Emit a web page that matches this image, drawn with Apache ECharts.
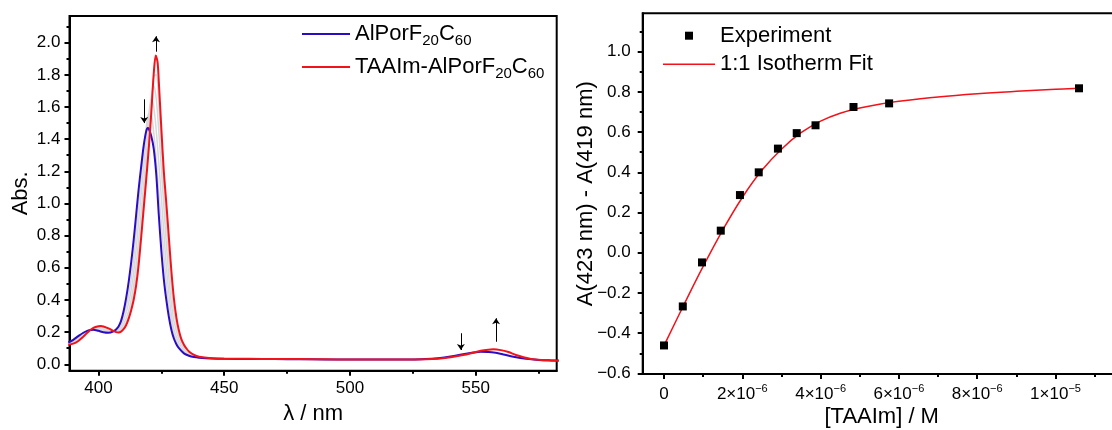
<!DOCTYPE html>
<html>
<head>
<meta charset="utf-8">
<title>AlPorF20C60 titration with TAAIm</title>
<script src="https://cdn.jsdelivr.net/npm/echarts@6/dist/echarts.min.js"></script>
<style>
  html, body { margin: 0; padding: 0; background: #fff; }
  #chart { width: 1112px; height: 430px; }
</style>
</head>
<body>
<div id="chart"></div>
<script>
const FONT = '"Liberation Sans", Arial, Helvetica, sans-serif';
const BLUE = '#2a0cc4';
const RED = '#f2121a';
const GRAY = '#d8d8d8';

// ---- UV-vis spectra: [wavelength (nm), absorbance] ----
const specAlPor = [
  [388,0.135],[390,0.152],[392,0.175],[394,0.196],[396,0.211],[398,0.215],[400,0.208],[402,0.199],
  [404,0.196],[406,0.205],[407,0.216],[408,0.235],[409,0.27],[410,0.33],[411,0.41],[412,0.51],
  [413,0.63],[414,0.77],[415,0.93],[416,1.09],[417,1.23],[418,1.36],[419,1.45],[419.6,1.47],
  [420,1.465],[421,1.42],[422,1.34],[423,1.18],[424,0.93],[425,0.71],[426,0.53],[427,0.4],
  [428,0.295],[429,0.215],[430,0.16],[431,0.125],[432,0.1],[434,0.068],[436,0.053],[438,0.045],
  [440,0.041],[445,0.036],[450,0.034],[460,0.033],[470,0.032],[480,0.031],[490,0.03],[500,0.029],
  [510,0.029],[520,0.029],[525,0.03],[530,0.032],[535,0.038],[540,0.048],[545,0.062],[549,0.073],
  [552,0.078],[555,0.077],[558,0.071],[561,0.061],[565,0.047],[570,0.034],[575,0.027],[580,0.024],[583,0.023]
];
const specTAAIm = [
  [388,0.121],[390,0.128],[392,0.145],[394,0.172],[396,0.203],[398,0.227],[400,0.237],[401,0.238],
  [402,0.235],[404,0.223],[406,0.207],[407,0.2],[408,0.198],[409,0.203],[410,0.218],[411,0.243],
  [412,0.282],[413,0.335],[414,0.4],[415,0.49],[416,0.62],[417,0.79],[418,0.97],[419,1.15],
  [420,1.34],[421,1.56],[422,1.81],[422.8,1.92],[423.5,1.88],[424,1.76],[425,1.47],[426,1.2],
  [427,1.0],[428,0.79],[429,0.58],[430,0.41],[431,0.29],[432,0.21],[433,0.155],[434,0.122],
  [435,0.098],[436,0.08],[438,0.058],[440,0.047],[445,0.038],[450,0.035],[460,0.034],[470,0.033],
  [480,0.032],[490,0.031],[500,0.03],[510,0.03],[520,0.03],[525,0.03],[530,0.031],[535,0.035],
  [540,0.043],[545,0.057],[549,0.072],[552,0.084],[555,0.091],[557,0.093],[560,0.088],[563,0.076],
  [566,0.058],[569,0.044],[572,0.033],[576,0.026],[580,0.023],[583,0.022]
];
// intermediate titration steps (Soret region)
const specStep1 = [
  [388,0.132],[392,0.172],[396,0.21],[400,0.215],[404,0.205],[407,0.215],[409,0.26],[411,0.36],
  [412,0.43],[413,0.53],[414,0.66],[415,0.83],[416,1.0],[417,1.16],[418,1.32],[419,1.47],[420,1.56],
  [421,1.55],[422,1.44],[423,1.27],[424,1.07],[425,0.88],[426,0.68],[427,0.5],[428,0.36],[429,0.26],
  [430,0.19],[432,0.11],[434,0.075],[436,0.058],[440,0.043],[445,0.036]
];
const specStep2 = [
  [388,0.13],[392,0.165],[396,0.21],[400,0.222],[404,0.21],[407,0.208],[409,0.24],[411,0.32],
  [412,0.38],[413,0.46],[414,0.57],[415,0.72],[416,0.89],[417,1.06],[418,1.23],[419,1.4],[420,1.55],
  [421,1.65],[422,1.6],[423,1.45],[424,1.25],[425,1.04],[426,0.82],[427,0.61],[428,0.44],[429,0.31],
  [430,0.22],[432,0.13],[434,0.085],[436,0.063],[440,0.045],[445,0.037]
];
const specStep3 = [
  [388,0.127],[392,0.158],[396,0.208],[400,0.23],[404,0.215],[407,0.203],[409,0.222],[411,0.285],
  [412,0.33],[413,0.4],[414,0.49],[415,0.62],[416,0.77],[417,0.94],[418,1.12],[419,1.3],[420,1.48],
  [421,1.65],[422,1.73],[423,1.65],[424,1.45],[425,1.22],[426,0.98],[427,0.75],[428,0.54],[429,0.38],
  [430,0.27],[432,0.155],[434,0.097],[436,0.07],[440,0.046],[445,0.037]
];
const specStep4 = [
  [388,0.124],[392,0.152],[396,0.206],[400,0.234],[404,0.219],[407,0.2],[409,0.21],[411,0.26],
  [412,0.3],[413,0.36],[414,0.44],[415,0.55],[416,0.69],[417,0.85],[418,1.03],[419,1.22],[420,1.41],
  [421,1.61],[422,1.79],[423,1.8],[424,1.62],[425,1.36],[426,1.1],[427,0.88],[428,0.66],[429,0.47],
  [430,0.33],[432,0.18],[434,0.11],[436,0.075],[440,0.047],[445,0.037]
];
// change arrows: [wavelength, from A, to A]
const specArrows = [[418.2,1.648,1.5],[422.9,1.944,2.04],[544.1,0.193,0.089],[558.1,0.14,0.286]];

const specXTicks = [400,450,500,550];
const specXMinor = [425,475,525,575];
const specYTicks = [0,0.2,0.4,0.6,0.8,1.0,1.2,1.4,1.6,1.8,2.0];
const specYMinor = [0.1,0.3,0.5,0.7,0.9,1.1,1.3,1.5,1.7,1.9,2.1];

// ---- Binding isotherm ----
const titrConc  = [0,0.48e-6,0.97e-6,1.45e-6,1.94e-6,2.42e-6,2.91e-6,3.39e-6,3.87e-6,4.84e-6,5.75e-6,10.6e-6];
const titrDelta = [-0.461,-0.267,-0.048,0.11,0.287,0.4,0.518,0.595,0.634,0.725,0.743,0.818];
const fitConc   = [0,0.5e-6,1e-6,1.5e-6,2e-6,2.5e-6,3e-6,3.5e-6,4e-6,4.5e-6,5e-6,5.5e-6,6e-6,7e-6,8e-6,9e-6,10e-6,10.6e-6];
const fitDelta  = [-0.462,-0.262,-0.068,0.113,0.275,0.41,0.515,0.597,0.655,0.694,0.72,0.739,0.753,0.775,0.791,0.803,0.813,0.818];

const titrXTicks = [0,2e-6,4e-6,6e-6,8e-6,1e-5];
const titrXMinor = [1e-6,3e-6,5e-6,7e-6,9e-6,1.1e-5];
const titrYTicks = [-0.6,-0.4,-0.2,0,0.2,0.4,0.6,0.8,1.0];
const titrYMinor = [-0.5,-0.3,-0.1,0.1,0.3,0.5,0.7,0.9,1.1];

const labelBase = { color: '#000', fontFamily: FONT, fontSize: 17 };
const nameStyle = { color: '#000', fontFamily: FONT, fontSize: 22 };

function majorAxis(o) {
  return {
    type: 'value', gridIndex: o.grid, position: o.pos, min: o.min, max: o.max,
    axisLine: { show: true, onZero: false, lineStyle: { color: '#000', width: 2 } },
    axisTick: { show: true, inside: false, length: 5, customValues: o.ticks,
                lineStyle: { color: '#000', width: 2 } },
    axisLabel: Object.assign({ show: true, customValues: o.ticks, margin: o.margin,
                formatter: o.fmt, rich: o.rich, hideOverlap: false }, labelBase),
    splitLine: { show: false }, minorTick: { show: false },
    name: o.name, nameLocation: 'middle', nameGap: o.nameGap, nameTextStyle: nameStyle,
    nameMoveOverlap: false
  };
}
function minorAxis(o) {
  return {
    type: 'value', gridIndex: o.grid, position: o.pos, min: o.min, max: o.max,
    axisLine: { show: false, onZero: false },
    axisTick: { show: true, inside: false, length: 3, customValues: o.ticks,
                lineStyle: { color: '#000', width: 2 } },
    axisLabel: { show: false }, splitLine: { show: false }
  };
}

const SPEC_X = { min: 388.5, max: 582.2 };
const SPEC_Y = { min: -0.04, max: 2.166 };
const TITR_X = { min: -0.544e-6, max: 11.665e-6 };
const TITR_Y = { min: -0.603, max: 1.191 };

const supRich = {
  b: { fontFamily: FONT, fontSize: 17, color: '#000', lineHeight: 22 },
  s: { fontFamily: FONT, fontSize: 11, color: '#000', lineHeight: 11, verticalAlign: 'top' }
};
function sciLabel(v) {
  if (v === 0) return '{b|0}';
  const e = Math.floor(Math.round(Math.log10(v) * 1e6) / 1e6);
  const m = Math.round(v / Math.pow(10, e));
  return '{b|' + m + '×10}{s|\u2212' + Math.abs(e) + '}';
}
function signed(v) { return (v < 0 ? '\u2212' : '') + Math.abs(v).toFixed(1); }

const subRich = {
  b: { fontFamily: FONT, fontSize: 22, color: '#000', lineHeight: 28 },
  s: { fontFamily: FONT, fontSize: 15, color: '#000', lineHeight: 16, verticalAlign: 'bottom' }
};
function chemName(n) {
  return n.replace(/[A-Za-z\-]+/g, m => '{b|' + m + '}').replace(/(\d+)/g, '{s|$1}');
}

const grayLine = d => ({
  type: 'line', xAxisIndex: 0, yAxisIndex: 0, data: d, symbol: 'none', smooth: 0.3,
  lineStyle: { color: GRAY, width: 1.5 }, silent: true, z: 1
});

// legend keys: thin bars for lines, a small square for the measured points
const LINE_KEY_L = 'path://M0 0H48V2H0Z';
const LINE_KEY_R = 'path://M0 0H52V1.5H0Z';
const SQUARE_KEY = 'path://M0 0H10V10H0Z';

const option = {
  animation: false,
  backgroundColor: '#fff',
  grid: [
    { left: 69.5, top: 16, width: 487.2, height: 354.7, show: true, borderColor: '#000',
      borderWidth: 2, containLabel: false, outerBoundsMode: 'none' },
    { left: 642.7, top: 13.3, width: 478, height: 360.7, show: true, borderColor: '#000',
      borderWidth: 2, containLabel: false, outerBoundsMode: 'none' }
  ],
  xAxis: [
    majorAxis(Object.assign({ grid: 0, pos: 'bottom', ticks: specXTicks, margin: 9,
      fmt: v => String(Math.round(v)), name: 'λ / nm', nameGap: 32 }, SPEC_X)),
    minorAxis(Object.assign({ grid: 0, pos: 'bottom', ticks: specXMinor }, SPEC_X)),
    majorAxis(Object.assign({ grid: 1, pos: 'bottom', ticks: titrXTicks, margin: 9,
      fmt: sciLabel, rich: supRich, name: '[TAAIm] / M', nameGap: 32 }, TITR_X)),
    minorAxis(Object.assign({ grid: 1, pos: 'bottom', ticks: titrXMinor }, TITR_X))
  ],
  yAxis: [
    majorAxis(Object.assign({ grid: 0, pos: 'left', ticks: specYTicks, margin: 9,
      fmt: v => v.toFixed(1), name: 'Abs.', nameGap: 38 }, SPEC_Y)),
    minorAxis(Object.assign({ grid: 0, pos: 'left', ticks: specYMinor }, SPEC_Y)),
    majorAxis(Object.assign({ grid: 1, pos: 'left', ticks: titrYTicks, margin: 12,
      fmt: signed, name: 'A(423 nm) - A(419 nm)', nameGap: 46 }, TITR_Y)),
    minorAxis(Object.assign({ grid: 1, pos: 'left', ticks: titrYMinor }, TITR_Y))
  ],
  legend: [
    { left: 302, top: 23, orient: 'vertical', padding: 0, itemWidth: 48, itemHeight: 14,
      itemGap: 8, selectedMode: false, symbolKeepAspect: true,
      data: [{ name: 'AlPorF20C60', icon: LINE_KEY_L }, { name: 'TAAIm-AlPorF20C60', icon: LINE_KEY_L }],
      formatter: chemName,
      textStyle: { fontFamily: FONT, fontSize: 22, color: '#000', rich: subRich } },
    { left: 663, top: 23.7, orient: 'vertical', padding: 0, itemWidth: 52, itemHeight: 8,
      itemGap: 4.6, selectedMode: false, symbolKeepAspect: true,
      data: [{ name: 'Experiment', icon: SQUARE_KEY }, { name: '1:1 Isotherm Fit', icon: LINE_KEY_R }],
      textStyle: { fontFamily: FONT, fontSize: 22, color: '#000', lineHeight: 24 } }
  ],
  series: [
    grayLine(specStep1), grayLine(specStep2), grayLine(specStep3), grayLine(specStep4),
    { name: 'AlPorF20C60', type: 'line', xAxisIndex: 0, yAxisIndex: 0, data: specAlPor,
      symbol: 'none', smooth: 0.3, lineStyle: { color: BLUE, width: 2 }, itemStyle: { color: BLUE }, z: 2 },
    { name: 'TAAIm-AlPorF20C60', type: 'line', xAxisIndex: 0, yAxisIndex: 0, data: specTAAIm,
      symbol: 'none', smooth: 0.3, lineStyle: { color: RED, width: 2 }, itemStyle: { color: RED }, z: 3,
      markLine: {
        silent: true, symbol: ['none', 'arrow'], symbolSize: 6, precision: 4,
        label: { show: false }, emphasis: { disabled: true },
        lineStyle: { color: '#000', width: 1, type: 'solid' },
        data: specArrows.map(a => [{ coord: [a[0], a[1]] }, { coord: [a[0], a[2]] }])
      } },
    { name: '1:1 Isotherm Fit', type: 'line', xAxisIndex: 2, yAxisIndex: 2,
      data: fitConc.map((c, i) => [c, fitDelta[i]]), symbol: 'none', smooth: 0.4,
      lineStyle: { color: RED, width: 1.5 }, itemStyle: { color: RED }, z: 2 },
    { name: 'Experiment', type: 'scatter', xAxisIndex: 2, yAxisIndex: 2,
      data: titrConc.map((c, i) => [c, titrDelta[i]]), symbol: 'rect', symbolSize: 8,
      itemStyle: { color: '#000', opacity: 1 }, z: 3 }
  ]
};

const chart = echarts.init(document.getElementById('chart'), null, { renderer: 'canvas' });
chart.setOption(option);
</script>
</body>
</html>
